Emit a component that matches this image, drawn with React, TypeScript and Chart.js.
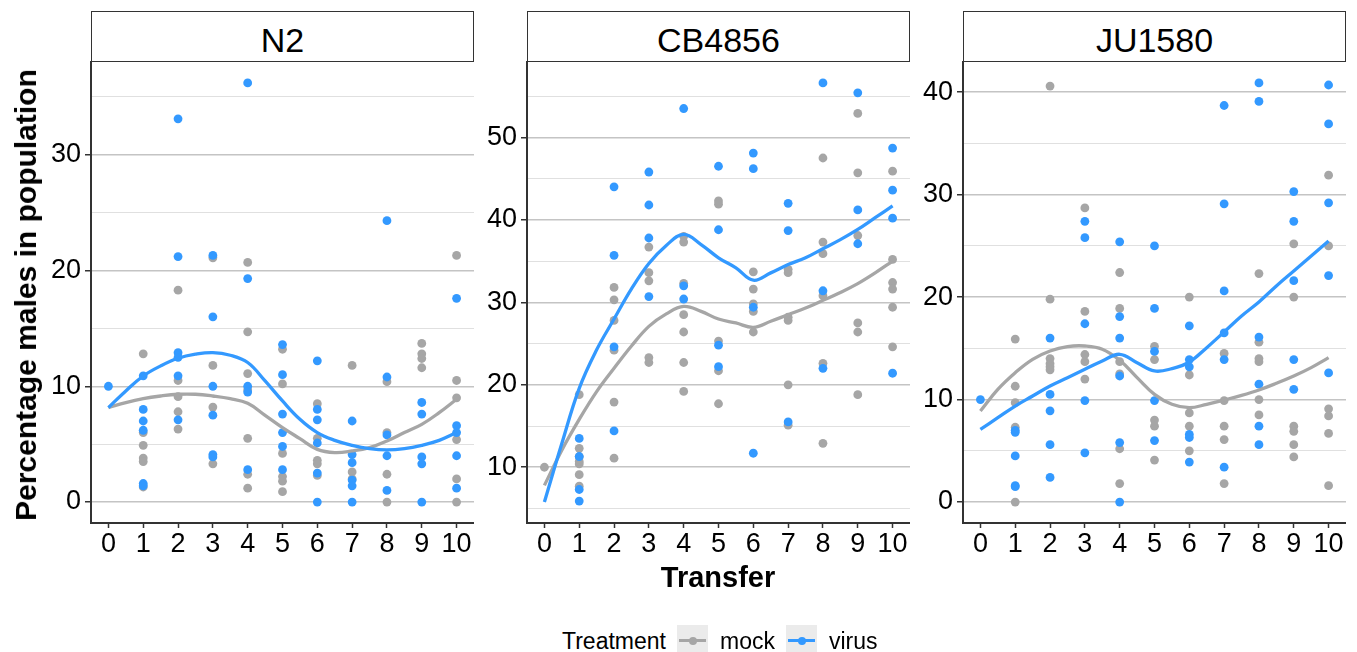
import React, { useEffect, useRef } from 'react';
import { Chart, registerables } from 'chart.js';

Chart.register(...registerables);

// ---------------- data ----------------
const TRANSFERS = [0, 1, 2, 3, 4, 5, 6, 7, 8, 9, 10];
const FIT_X = [0, 0.5, 1, 1.5, 2, 2.5, 3, 3.5, 4, 4.5, 5, 5.5, 6, 6.5, 7, 7.5, 8, 8.5, 9, 9.5, 10];
const STRAINS = ['N2', 'CB4856', 'JU1580'];
const TREATMENTS = ['mock', 'virus'];

// values per transfer (index = transfer)
const N2_MOCK = [
  [], [12.8, 6.0, 4.9, 3.8, 3.5, 1.3], [18.3, 10.5, 9.1, 7.8, 6.3], [21.1, 11.8, 8.2, 3.3],
  [20.7, 14.7, 11.1, 9.7, 5.5, 2.4, 1.2], [13.2, 10.2, 4.2, 2.2, 1.8, 0.9], [8.5, 5.5, 3.6, 3.3, 2.3],
  [11.8, 2.6, 2.0], [10.4, 6.0, 2.4, 0], [13.7, 12.8, 12.4, 11.6], [21.3, 10.5, 9.0, 5.4, 2.0, 0],
];
const N2_VIRUS = [
  [10], [10.9, 8.0, 7.0, 6.2, 1.6, 1.4], [33.1, 21.2, 12.9, 12.5, 10.9, 7.1], [21.3, 16.0, 10.0, 7.5, 4.1, 3.9],
  [36.2, 19.3, 10.0, 9.5, 2.8], [13.6, 11.0, 7.6, 6.0, 4.8, 2.8], [12.2, 8.0, 7.1, 5.1, 2.5, 0],
  [7.0, 4.1, 3.4, 1.9, 1.4, 0], [24.3, 10.8, 5.8, 4.0, 1.0], [8.6, 7.6, 3.9, 3.3, 0], [17.6, 6.6, 6.0, 4.0, 1.2],
];
const CB4856_MOCK = [
  [10], [18.8, 12.3, 11.3, 10.7, 10.4, 9.1, 7.7], [31.8, 30.3, 27.8, 24.2, 17.9, 11.1], [36.7, 33.6, 32.6, 23.3, 22.7],
  [38.0, 37.3, 32.3, 28.5, 26.4, 22.7, 19.2], [42.3, 41.9, 25.3, 21.7, 17.7], [33.7, 31.6, 29.8, 28.9, 26.4],
  [34.0, 33.6, 28.2, 27.8, 20.0, 15.1], [47.5, 37.3, 35.9, 30.8, 22.6, 12.9], [52.9, 45.7, 38.1, 27.5, 26.4, 18.8],
  [45.9, 35.2, 32.4, 31.6, 29.4, 24.6],
];
const CB4856_VIRUS = [
  [], [13.5, 11.3, 7.3, 5.9], [44.0, 35.7, 24.6, 14.4], [45.8, 41.8, 37.8, 30.7], [53.5, 32.0, 30.4],
  [46.5, 38.8, 24.8, 22.2], [48.1, 46.2, 29.4, 11.7], [42.0, 38.7, 15.5], [56.6, 31.4, 22.0],
  [55.4, 41.2, 37.1], [48.7, 43.6, 40.2, 21.4],
];
const JU1580_MOCK = [
  [], [15.9, 11.3, 9.7, 7.3, 0], [40.6, 19.8, 14.0, 13.5, 13.2, 12.9], [28.7, 18.6, 14.4, 13.7, 12.0],
  [22.4, 18.9, 13.7, 12.5, 5.2, 1.8], [15.2, 13.9, 8.0, 7.4, 4.1], [20.0, 12.4, 8.7, 7.4, 5.0],
  [14.5, 9.9, 7.4, 6.1, 1.8], [22.3, 15.6, 14.0, 13.7, 10.0, 8.5], [25.2, 20.0, 7.4, 6.9, 5.6, 4.4],
  [31.9, 25.0, 9.1, 8.4, 6.7, 1.6],
];
const JU1580_VIRUS = [
  [10], [7.0, 6.8, 4.5, 1.6, 1.5], [16.0, 10.5, 8.9, 5.6, 2.4], [27.4, 25.8, 17.4, 9.9, 4.8],
  [25.4, 18.1, 16.0, 12.3, 5.8, 0], [25.0, 18.9, 14.7, 9.9, 6.0], [17.2, 13.9, 13.2, 6.6, 6.3, 3.9],
  [38.7, 29.1, 20.6, 16.5, 13.9, 3.4], [40.9, 39.1, 16.1, 11.5, 7.4, 5.6], [30.3, 27.4, 21.6, 13.9, 11.0],
  [40.7, 36.9, 29.2, 22.1, 12.6],
];

// smoothed (loess) curves read at FIT_X
const N2_MOCK_FIT = [8.16, 8.59, 8.93, 9.16, 9.31, 9.31, 9.16, 8.93, 8.53, 7.49, 6.43, 5.48, 4.55, 4.27, 4.41, 4.7, 5.27, 6.0, 6.71, 7.72, 8.88];
const N2_VIRUS_FIT = [8.16, 9.6, 10.89, 11.76, 12.42, 12.77, 12.91, 12.68, 12.05, 10.46, 8.73, 7.15, 6.0, 5.33, 4.9, 4.61, 4.5, 4.61, 4.9, 5.33, 6.0];
const CB4856_MOCK_FIT = [7.8, 12.07, 15.8, 19.17, 22.0, 24.7, 27.08, 28.6, 29.5, 28.9, 27.97, 27.5, 26.96, 27.7, 28.5, 29.3, 30.24, 31.2, 32.27, 33.57, 35.0];
const CB4856_VIRUS_FIT = [5.78, 12.88, 19.57, 24.24, 27.97, 31.62, 34.7, 36.9, 38.24, 37.0, 35.4, 34.18, 32.68, 33.57, 34.58, 35.4, 36.5, 37.6, 38.84, 40.26, 41.68];
const JU1580_MOCK_FIT = [8.89, 11.0, 12.63, 13.93, 14.74, 15.17, 15.23, 14.91, 13.83, 12.14, 10.51, 9.54, 9.21, 9.54, 9.96, 10.41, 10.94, 11.59, 12.3, 13.12, 14.09];
const JU1580_VIRUS_FIT = [7.1, 8.23, 9.37, 10.35, 11.33, 12.14, 12.95, 13.77, 14.42, 13.6, 12.79, 13.02, 13.67, 15.07, 16.6, 18.16, 19.53, 21.09, 22.55, 24.02, 25.48];

const Y_TITLE = 'Percentage males in population';
const X_TITLE = 'Transfer';
const LEGEND_TITLE = 'Treatment';

// ---------------- styles ----------------
const FONT = '"Liberation Sans", Arial, Helvetica, sans-serif';
const GREY = '#a6a6a6';
const BLUE = '#3399ff';
const AXIS = '#333333';

const PANEL_LEFTS = [91, 527, 963];
const PLOT_W = 383;
const PLOT_TOP = 62;
const YAXIS_W = 51;
const XAXIS_H = 42;
const TOP_PAD = 10;
const CANVAS_H = 513;

function toPoints(groups: number[][]) {
  return groups.flatMap((vals, i) => vals.map((v) => ({ x: TRANSFERS[i], y: v })));
}
function toFit(vals: number[]) {
  return vals.map((v, i) => ({ x: FIT_X[i], y: v }));
}

type PanelProps = {
  left: number;
  mock: number[][];
  virus: number[][];
  mockFit: number[];
  virusFit: number[];
};

function Panel({ left, mock, virus, mockFit, virusFit }: PanelProps) {
  const ref = useRef<HTMLCanvasElement | null>(null);
  useEffect(() => {
    if (!ref.current) return;
    const all = [...mock.flat(), ...virus.flat(), ...mockFit, ...virusFit];
    const lo = Math.min(...all);
    const hi = Math.max(...all);
    const pad = (hi - lo) * 0.05;
    const yMin = lo - pad;
    const yMax = hi + pad;
    const isMajor = (c: any) => c.tick && Math.round(c.tick.value) % 10 === 0;
    const chart = new Chart(ref.current, {
      type: 'scatter',
      data: {
        datasets: [
          { type: 'line', label: 'virus fit', data: toFit(virusFit), borderColor: BLUE, borderWidth: 3.3, pointRadius: 0, tension: 0.4, fill: false, order: 1 } as any,
          { type: 'line', label: 'mock fit', data: toFit(mockFit), borderColor: GREY, borderWidth: 3.3, pointRadius: 0, tension: 0.4, fill: false, order: 2 } as any,
          { type: 'scatter', label: 'virus', data: toPoints(virus), backgroundColor: BLUE, pointRadius: 4.4, pointBorderWidth: 0, pointHoverRadius: 4.4, order: 3 } as any,
          { type: 'scatter', label: 'mock', data: toPoints(mock), backgroundColor: GREY, pointRadius: 4.4, pointBorderWidth: 0, pointHoverRadius: 4.4, order: 4 } as any,
        ],
      },
      options: {
        animation: false,
        responsive: false,
        events: [],
        layout: { autoPadding: false, padding: { top: TOP_PAD, left: 0, right: 0, bottom: 0 } },
        plugins: { legend: { display: false }, tooltip: { enabled: false } },
        scales: {
          x: {
            type: 'linear',
            min: -0.5,
            max: 10.5,
            afterBuildTicks: (s: any) => { s.ticks = TRANSFERS.map((v) => ({ value: v })); },
            afterFit: (s: any) => { s.height = XAXIS_H; s.paddingLeft = 0; s.paddingRight = 0; },
            ticks: { font: { family: FONT, size: 27 }, color: '#000', padding: 0, maxRotation: 0, autoSkip: false, callback: (v: any) => String(v) },
            grid: { drawOnChartArea: false, tickLength: 5, tickColor: AXIS, tickWidth: 1.5 },
            border: { display: true, color: AXIS, width: 2 },
          },
          y: {
            type: 'linear',
            min: yMin,
            max: yMax,
            afterBuildTicks: (s: any) => {
              const t: any[] = [];
              for (let v = Math.ceil(yMin / 5) * 5; v <= yMax; v += 5) t.push({ value: v + 0 });
              s.ticks = t;
            },
            afterFit: (s: any) => { s.width = YAXIS_W; s.paddingTop = 0; s.paddingBottom = 0; },
            ticks: { font: { family: FONT, size: 27 }, color: '#000', padding: 4, callback: (v: any) => (Math.round(v) % 10 === 0 ? String(Math.round(v)) : '') },
            grid: {
              color: (c: any) => (isMajor(c) ? '#c4c4c4' : '#e0e0e0'),
              lineWidth: (c: any) => (isMajor(c) ? 1.5 : 1),
              tickColor: (c: any) => (isMajor(c) ? AXIS : 'rgba(0,0,0,0)'),
              tickLength: 6,
              tickWidth: 1.5,
            },
            border: { display: true, color: AXIS, width: 2 },
          },
        },
      } as any,
    });
    return () => chart.destroy();
  }, [mock, virus, mockFit, virusFit]);
  return (
    <canvas
      ref={ref}
      width={YAXIS_W + PLOT_W}
      height={CANVAS_H}
      style={{ position: 'absolute', left: left - YAXIS_W, top: PLOT_TOP - TOP_PAD, width: YAXIS_W + PLOT_W, height: CANVAS_H }}
    />
  );
}

function Text({ x, baseline, size, bold, center, children, color }: any) {
  return (
    <div
      style={{
        position: 'absolute',
        left: x,
        top: baseline - 0.8465 * size,
        fontSize: size,
        lineHeight: 1,
        fontWeight: bold ? 'bold' : 'normal',
        whiteSpace: 'nowrap',
        color: color || '#000',
        transform: center ? 'translateX(-50%)' : undefined,
      }}
    >
      {children}
    </div>
  );
}

function Key({ x, color }: { x: number; color: string }) {
  return (
    <div style={{ position: 'absolute', left: x, top: 625, width: 31, height: 31, background: '#ebebeb' }}>
      <div style={{ position: 'absolute', left: 2, top: 14, width: 27, height: 3, background: color }} />
      <div style={{ position: 'absolute', left: 11.5, top: 11.5, width: 8, height: 8, borderRadius: 4, background: color }} />
    </div>
  );
}

export default function App() {
  const panels = [
    { mock: N2_MOCK, virus: N2_VIRUS, mockFit: N2_MOCK_FIT, virusFit: N2_VIRUS_FIT },
    { mock: CB4856_MOCK, virus: CB4856_VIRUS, mockFit: CB4856_MOCK_FIT, virusFit: CB4856_VIRUS_FIT },
    { mock: JU1580_MOCK, virus: JU1580_VIRUS, mockFit: JU1580_MOCK_FIT, virusFit: JU1580_VIRUS_FIT },
  ];
  return (
    <div style={{ position: 'fixed', left: 0, top: 0, width: 1357, height: 652, background: '#fff', overflow: 'hidden', fontFamily: FONT }}>
      {panels.map((p, i) => (
        <React.Fragment key={STRAINS[i]}>
          <div
            style={{
              position: 'absolute', left: PANEL_LEFTS[i], top: 11, width: PLOT_W, height: 51,
              border: '1px solid #333', boxSizing: 'border-box', background: '#fff',
            }}
          />
          <Text x={PANEL_LEFTS[i] + PLOT_W / 2} baseline={51.7} size={34} center>
            {STRAINS[i]}
          </Text>
          <Panel left={PANEL_LEFTS[i]} {...p} />
        </React.Fragment>
      ))}
      <div
        style={{
          position: 'absolute', left: 26, top: 295, fontSize: 30, lineHeight: 1, fontWeight: 'bold',
          whiteSpace: 'nowrap', transform: 'translate(-50%, -50%) rotate(-90deg)', color: '#000',
        }}
      >
        {Y_TITLE}
      </div>
      <Text x={718} baseline={588} size={29} bold center>{X_TITLE}</Text>
      <Text x={562} baseline={649} size={23}>{LEGEND_TITLE}</Text>
      <Key x={677} color={GREY} />
      <Text x={720} baseline={649} size={23}>{TREATMENTS[0]}</Text>
      <Key x={786} color={BLUE} />
      <Text x={829} baseline={649} size={23}>{TREATMENTS[1]}</Text>
    </div>
  );
}
